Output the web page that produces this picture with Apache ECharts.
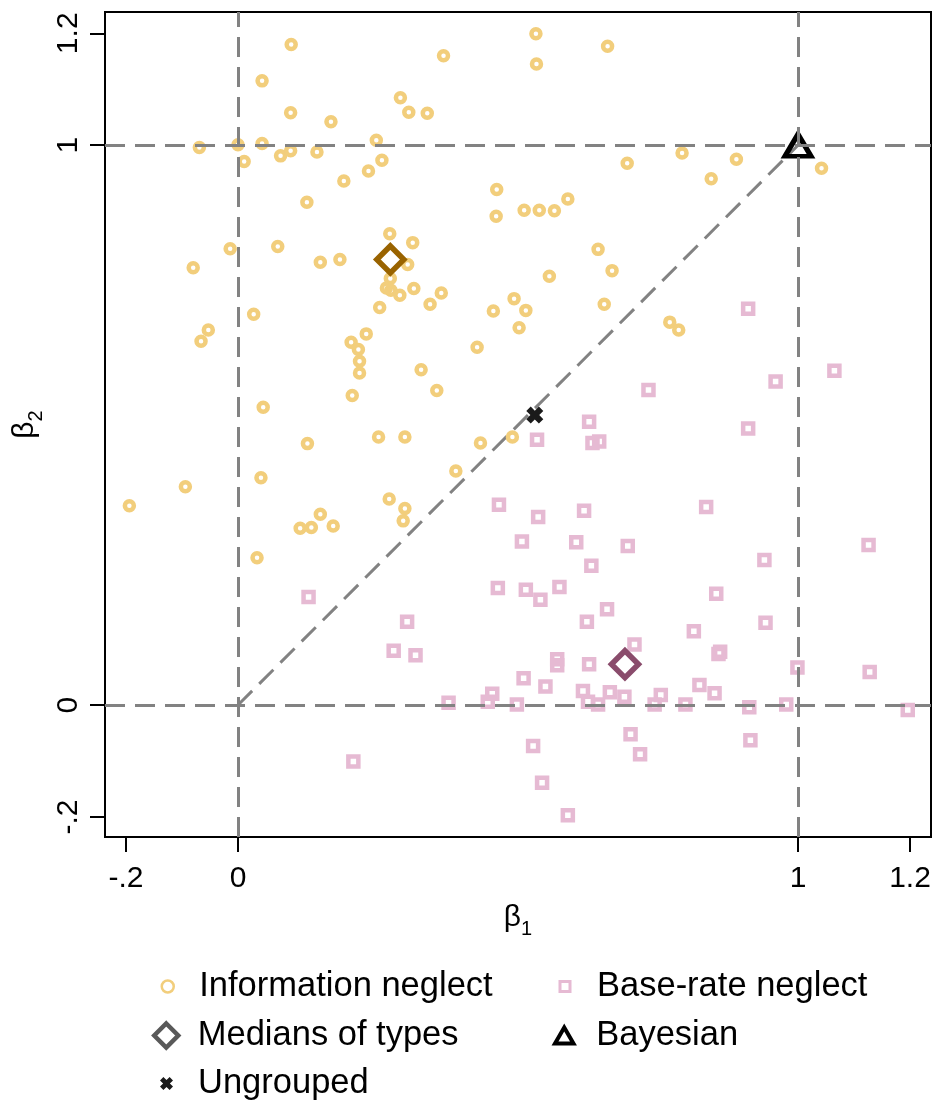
<!DOCTYPE html>
<html>
<head>
<meta charset="utf-8">
<script src="https://cdn.jsdelivr.net/npm/echarts@6/dist/echarts.min.js"></script>
<style>html,body{margin:0;padding:0;background:#fff;}#chart{width:940px;height:1106px;}</style>
</head>
<body>
<div id="chart"></div>
<script>
// Tick values and labels
const xTickValues = [-0.2, 0, 1, 1.2];
const xTickLabels = ['-.2', '0', '1', '1.2'];
const yTickValues = [-0.2, 0, 1, 1.2];
const yTickLabels = ['-.2', '0', '1', '1.2'];

// Information neglect (circles)
const infoX = [0.095,0.043,0.094,0.166,0.290,-0.069,0.000,0.043,0.011,0.076,0.094,0.141,0.247,0.257,0.233,0.189,0.123,0.271,-0.014,0.071,0.147,0.182,-0.080,0.272,0.265,0.273,0.289,0.314,0.312,0.303,0.532,0.660,0.367,0.533,0.305,0.338,0.793,0.695,0.462,0.589,0.511,0.538,0.565,0.461,0.643,0.668,0.556,0.363,0.890,0.845,1.042,0.253,0.028,-0.053,-0.066,0.229,0.202,0.215,0.217,0.217,0.204,0.045,0.124,0.251,0.298,0.041,-0.094,-0.194,0.270,0.298,0.295,0.147,0.170,0.111,0.131,0.034,0.343,0.493,0.514,0.456,0.654,0.502,0.427,0.771,0.787,0.327,0.355,0.433,0.490,0.389];
const infoY = [1.180,1.115,1.058,1.042,1.085,0.996,1.001,1.003,0.971,0.981,0.990,0.988,1.009,0.973,0.954,0.936,0.898,0.842,0.815,0.819,0.791,0.796,0.781,0.762,0.745,0.741,0.732,0.744,0.826,0.787,1.199,1.177,1.160,1.145,1.059,1.057,0.986,0.968,0.921,0.904,0.884,0.884,0.883,0.873,0.814,0.776,0.766,0.736,0.975,0.940,0.959,0.710,0.698,0.670,0.650,0.663,0.648,0.635,0.614,0.593,0.553,0.532,0.467,0.479,0.479,0.406,0.390,0.356,0.368,0.351,0.329,0.341,0.320,0.316,0.317,0.263,0.716,0.726,0.705,0.704,0.716,0.674,0.639,0.684,0.670,0.599,0.562,0.468,0.479,0.418];

// Base-rate neglect (squares)
const baseX = [0.911,1.065,0.960,0.733,0.627,0.911,0.534,0.633,0.645,0.466,0.836,0.536,0.618,1.126,0.507,0.604,0.696,0.940,0.631,0.126,0.464,0.514,0.540,0.574,0.854,0.659,0.302,0.623,0.942,0.814,0.861,0.858,0.278,0.317,0.708,0.570,0.570,0.627,0.999,1.128,0.510,0.549,0.616,0.664,0.690,0.454,0.446,0.376,0.498,0.625,0.643,0.744,0.755,0.799,0.824,0.851,0.913,0.979,1.196,0.701,0.718,0.527,0.915,0.543,0.206,0.589];
const baseY = [0.708,0.597,0.578,0.563,0.506,0.494,0.474,0.468,0.471,0.358,0.354,0.336,0.347,0.286,0.292,0.291,0.284,0.259,0.249,0.193,0.209,0.206,0.188,0.211,0.199,0.171,0.149,0.149,0.147,0.132,0.095,0.091,0.097,0.089,0.108,0.082,0.071,0.073,0.067,0.059,0.048,0.033,0.025,0.023,0.015,0.020,0.006,0.004,0.001,0.006,0.001,0.001,0.018,0.001,0.036,0.021,-0.004,0.001,-0.009,-0.052,-0.088,-0.073,-0.063,-0.139,-0.101,-0.197];

// Medians of types: [information neglect, base-rate neglect]
const medianX = [0.272, 0.691];
const medianY = [0.796, 0.073];
const bayesX = [1];
const bayesY = [1];
const ungroupedX = [0.530];
const ungroupedY = [0.518];

const zip = (xs, ys) => xs.map((x, i) => [x, ys[i]]);
const fmt = (vals, labs) => v => { const i = vals.findIndex(t => Math.abs(t - v) < 1e-6); return i >= 0 ? labs[i] : ''; };

const FONT = '"Liberation Sans", Arial, Helvetica, sans-serif';
const C_INFO = '#F2CE7C';
const C_BASE = '#E6BAD3';
const C_MED_INFO = '#996300';
const C_MED_BASE = '#8A4C6C';
const C_LINE = '#828282';
const X_PATH = 'path://M0,26L26,0L50,24L74,0L100,26L76,50L100,74L74,100L50,76L26,100L0,74L24,50Z';
const SQ_PATH = 'path://M0,0L10,0L10,10L0,10Z';
const DIA_PATH = 'path://M5,0L10,5L5,10L0,5Z';
const TRI_PATH = 'path://M5,0L10,8.66L0,8.66Z';

const dash = { color: C_LINE, width: 3, type: [20, 10] };

const legendBase = { orient: 'horizontal', padding: 0, selectedMode: false, itemGap: 0,
  textStyle: { fontSize: 34.5, fontFamily: FONT, color: '#000' } };

const option = {
  animation: false,
  backgroundColor: '#fff',
  grid: { left: 105, top: 12, width: 826, height: 825, show: true, borderColor: '#000', borderWidth: 2, backgroundColor: 'transparent' },
  xAxis: {
    type: 'value', min: -0.2375, max: 1.2375,
    name: '{b|β}{s|1}', nameLocation: 'middle', nameGap: 60,
    nameTextStyle: { fontFamily: FONT, color: '#000', rich: {
      b: { fontSize: 30, fontFamily: FONT, color: '#000', verticalAlign: 'bottom', lineHeight: 36 },
      s: { fontSize: 20, fontFamily: FONT, color: '#000', verticalAlign: 'bottom', lineHeight: 22, padding: [0, 0, -6, 0] } } },
    axisLine: { show: true, onZero: false, lineStyle: { color: '#000', width: 2 } },
    axisTick: { show: true, inside: false, length: 15, lineStyle: { color: '#000', width: 2 }, customValues: xTickValues },
    axisLabel: { customValues: xTickValues, formatter: fmt(xTickValues, xTickLabels), fontSize: 30, fontFamily: FONT, color: '#000', margin: 27 },
    splitLine: { show: false }
  },
  yAxis: {
    type: 'value', min: -0.2357, max: 1.238,
    name: '{b|β}{s|2}', nameLocation: 'middle', nameGap: 52,
    nameTextStyle: { fontFamily: FONT, color: '#000', rich: {
      b: { fontSize: 30, fontFamily: FONT, color: '#000', verticalAlign: 'bottom', lineHeight: 36 },
      s: { fontSize: 20, fontFamily: FONT, color: '#000', verticalAlign: 'bottom', lineHeight: 22, padding: [0, 0, -6, 0] } } },
    axisLine: { show: true, onZero: false, lineStyle: { color: '#000', width: 2 } },
    axisTick: { show: true, inside: false, length: 15, lineStyle: { color: '#000', width: 2 }, customValues: yTickValues },
    axisLabel: { customValues: yTickValues, formatter: fmt(yTickValues, yTickLabels), rotate: 90, fontSize: 30, fontFamily: FONT, color: '#000', margin: 21 },
    splitLine: { show: false }
  },
  legend: [
    Object.assign({}, legendBase, { left: 160.5, top: 969, itemWidth: 53, itemHeight: 12,
      data: [{ name: 'Information neglect', icon: 'circle', itemStyle: { color: 'transparent', borderColor: C_INFO, borderWidth: 2.5, opacity: 1 } }] }),
    Object.assign({}, legendBase, { left: 558.5, top: 969, itemWidth: 54, itemHeight: 10,
      data: [{ name: 'Base-rate neglect', icon: SQ_PATH, itemStyle: { color: 'transparent', borderColor: C_BASE, borderWidth: 3, opacity: 1 } }] }),
    Object.assign({}, legendBase, { left: 152, top: 1018, itemWidth: 53, itemHeight: 24,
      data: [{ name: 'Medians of types', icon: DIA_PATH, itemStyle: { color: 'transparent', borderColor: '#595959', borderWidth: 4.5, opacity: 1 } }] }),
    Object.assign({}, legendBase, { left: 553, top: 1018, itemWidth: 54, itemHeight: 16,
      data: [{ name: 'Bayesian', icon: TRI_PATH, itemStyle: { color: 'transparent', borderColor: '#000', borderWidth: 4, opacity: 1 } }] }),
    Object.assign({}, legendBase, { left: 160, top: 1066, itemWidth: 53, itemHeight: 13,
      data: [{ name: 'Ungrouped', icon: X_PATH, itemStyle: { color: '#1a1a1a', borderWidth: 0, opacity: 1 } }] })
  ],
  series: [
    {
      name: 'refLines', type: 'line', data: [[0, 0], [1, 1]], symbol: 'none', silent: true, z: 1,
      lineStyle: dash,
      markLine: { silent: true, symbol: ['none', 'none'], label: { show: false }, lineStyle: dash,
        data: [{ xAxis: 0 }, { xAxis: 1 }, { yAxis: 0 }, { yAxis: 1 }] }
    },
    {
      name: 'Information neglect', type: 'scatter', z: 3, data: zip(infoX, infoY),
      symbol: 'circle', symbolSize: 9,
      itemStyle: { color: 'transparent', borderColor: C_INFO, borderWidth: 4.5, opacity: 1 }
    },
    {
      name: 'Base-rate neglect', type: 'scatter', z: 3, data: zip(baseX, baseY),
      symbol: 'rect', symbolSize: 10,
      itemStyle: { color: 'transparent', borderColor: C_BASE, borderWidth: 4.5, opacity: 1 }
    },
    {
      name: 'Medians of types', type: 'scatter', z: 4,
      data: [
        { value: [medianX[0], medianY[0]], itemStyle: { borderColor: C_MED_INFO } },
        { value: [medianX[1], medianY[1]], itemStyle: { borderColor: C_MED_BASE } }
      ],
      symbol: 'diamond', symbolSize: 27,
      itemStyle: { color: 'transparent', borderWidth: 5.5, borderColor: '#595959', opacity: 1 }
    },
    {
      name: 'Bayesian', type: 'scatter', z: 4, data: zip(bayesX, bayesY),
      symbol: 'triangle', symbolSize: [26, 22],
      itemStyle: { color: 'transparent', borderColor: '#000', borderWidth: 5, opacity: 1 }
    },
    {
      name: 'Ungrouped', type: 'scatter', z: 4, data: zip(ungroupedX, ungroupedY),
      symbol: X_PATH, symbolSize: 17,
      itemStyle: { color: '#1a1a1a', borderWidth: 0, opacity: 1 }
    }
  ]
};

const chart = echarts.init(document.getElementById('chart'), null, { renderer: 'canvas' });
chart.setOption(option);
</script>
</body>
</html>
